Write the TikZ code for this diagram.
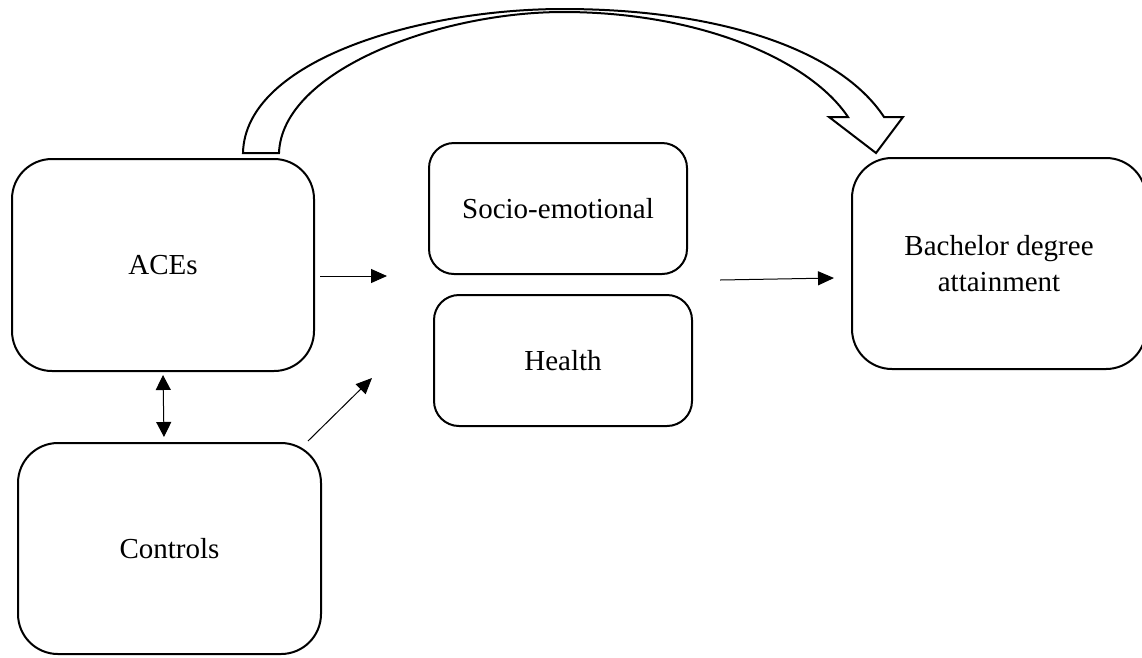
\documentclass[tikz,border=0pt]{standalone}
\usepackage{fontspec}
\setmainfont{Liberation Serif}
\usetikzlibrary{arrows.meta,calc}
\begin{document}
\begin{tikzpicture}[x=1pt,y=-1pt,
  box/.style={draw, line width=2pt, rounded corners=40pt, align=center,
    font=\fontsize{29}{36}\selectfont, inner sep=0pt},
  smallbox/.style={box, rounded corners=25pt},
  conn/.style={line width=1pt, -{Triangle[length=16pt,width=14pt]}},
  dconn/.style={line width=1pt, {Triangle[length=15pt,width=15pt]}-{Triangle[length=15pt,width=15pt]}},
  bigarrow/.style={draw, line width=2pt, line join=miter}]
\useasboundingbox (0,0) rectangle (1142,657);

\node[box, minimum width=302pt, minimum height=212pt] (aces) at (163,265) {ACEs};
\node[box, minimum width=303pt, minimum height=211pt] (controls) at (169.5,548.5) {Controls};
\node[smallbox, minimum width=258pt, minimum height=131pt] (socio) at (558,208.5) {Socio-emotional};
\node[smallbox, minimum width=258pt, minimum height=131pt] (health) at (563,360.5) {Health};
\node[box, minimum width=294pt, minimum height=211pt] (bach) at (999,263.5) {Bachelor degree\\attainment};

% free ends
\coordinate (a1) at (320,276);
\coordinate (a2) at (387,276);
\coordinate (c1) at (308,441);
\coordinate (c2) at (372,378);
\coordinate (d1) at (163,375);
\coordinate (d2) at (164,437);
\coordinate (m1) at (720,280);
\coordinate (m2) at (834,278);

\draw[conn] (a1) -- (a2);
\draw[conn] (c1) -- (c2);
\draw[dconn] (d1) -- (d2);
\draw[conn] (m1) -- (m2);

% big curved block arrow from ACEs to Bachelor degree attainment
\draw[bigarrow] (243,153) .. controls (245,60) and (420,9) .. (563,9)
  .. controls (720,9) and (840,50) .. (884,117)
  -- (903,117) -- (876,153) -- (829,117) -- (848,117)
  .. controls (810,60) and (700,12) .. (563,12)
  .. controls (440,12) and (282,70) .. (279,153) -- cycle;
\end{tikzpicture}
\end{document}
